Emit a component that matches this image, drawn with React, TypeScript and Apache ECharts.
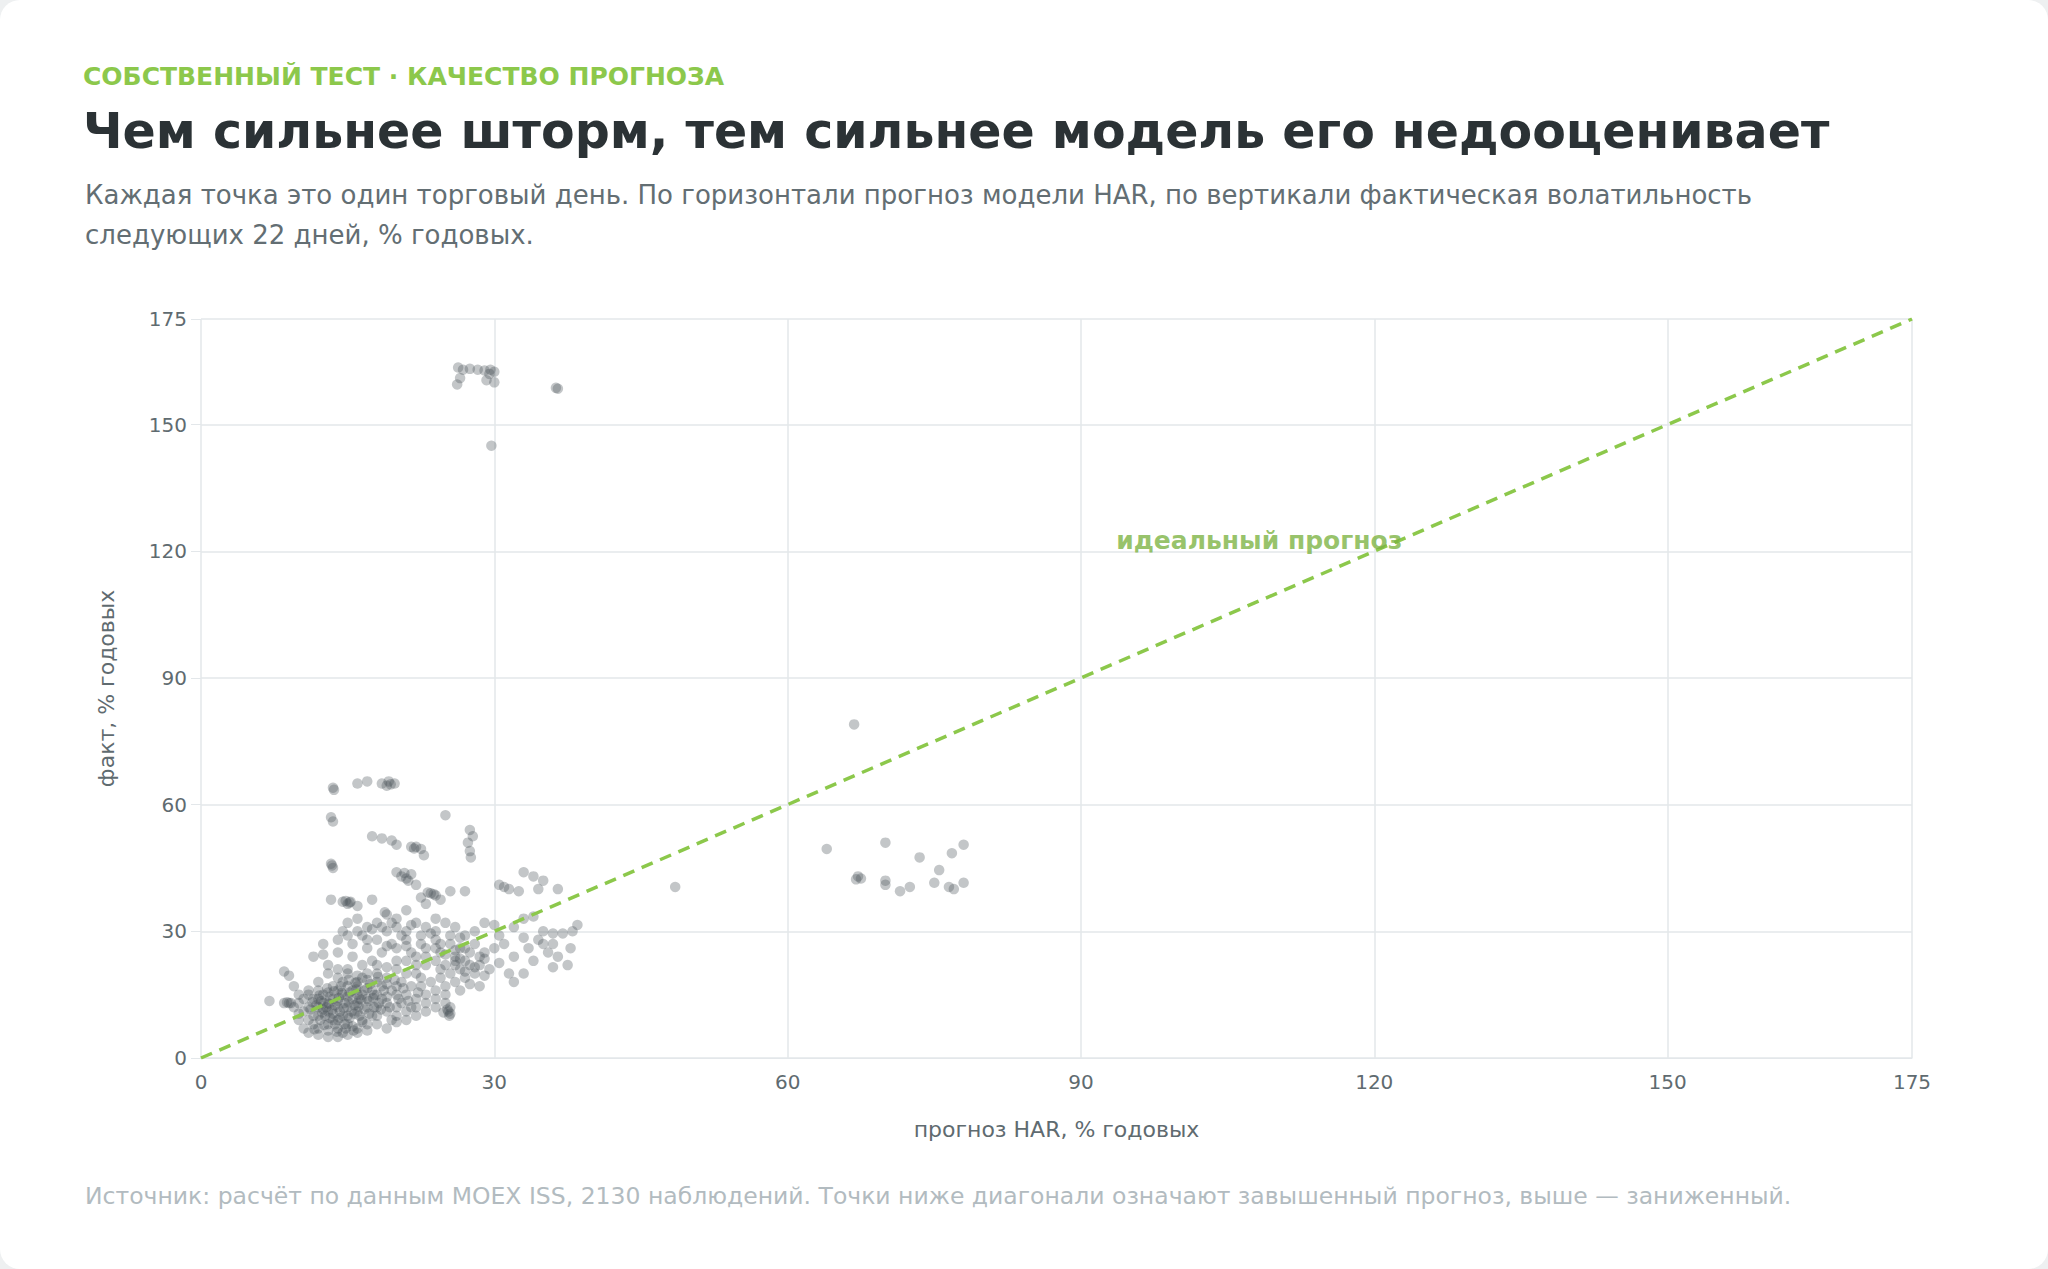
import { useRef, useEffect } from 'react'
import * as echarts from 'echarts'

const FONT = '"DejaVu Sans", "Noto Sans", sans-serif'

const xTicks = [0, 30, 60, 90, 120, 150, 175]
const diagonal = [[0, 0], [175, 175]]
const idealLabelAt = [93.6, 122.6]

// [прогноз HAR, факт] — % годовых
const stormPoints = [
  [26.3, 163.5], [26.8, 163], [27.5, 163.2], [28.3, 163], [29, 162.8], [29.5, 162], [30, 162.5],
  [29.6, 163], [26.5, 161], [26.2, 159.5], [29.2, 160.5], [30, 160], [36.5, 158.5], [36.3, 158.7],
  [29.7, 145],
]

const highForecastPoints = [
  [66.8, 79], [64, 49.5], [70, 51], [67.2, 43], [67.5, 42.5], [67, 42.3], [70, 42], [70, 41],
  [71.5, 39.5], [72.5, 40.5], [73.5, 47.5], [75, 41.5], [75.5, 44.5], [76.5, 40.5], [77, 40],
  [76.8, 48.5], [78, 50.5], [78, 41.5], [48.5, 40.5],
]

const upperPoints = [
  [13.5, 64], [13.6, 63.5], [16, 65], [17, 65.5], [18.5, 65], [19.2, 65.5], [19.8, 65], [19, 64.5],
  [13.3, 57], [13.5, 56], [17.5, 52.5], [18.5, 52], [19.5, 51.5], [20, 50.5], [21.5, 50], [22, 50],
  [22.5, 49.5], [22.8, 48], [25, 57.5], [27.5, 54], [27.8, 52.5], [27.3, 51], [27.5, 49], [27.6, 47.5],
  [13.3, 46], [13.5, 45], [20, 44], [20.5, 43], [21, 42.5], [21.5, 43.5], [22, 41], [23.5, 39],
  [24, 38.5], [24.5, 37.5], [25.5, 39.5], [27, 39.5], [31, 40.5], [31.5, 40], [32.5, 39.5], [33, 44],
  [34, 43], [35, 42], [34.5, 40], [36.5, 40], [13.3, 37.5], [14.5, 37], [15, 36.5], [15.3, 37],
  [16, 36], [17.5, 37.5], [30.5, 41], [22.5, 38], [23, 36.5], [21, 35], [19, 34], [20, 33],
  [23.2, 39.2], [23.8, 38.8], [20.8, 43.8], [21.2, 42], [15.2, 36.8], [14.8, 37.2], [18.8, 34.5],
  [21.8, 49.6], [19.4, 64.8], [13.4, 45.6],
]

const midPoints = [
  [29, 32], [30, 31.5], [32, 31], [33, 33], [34, 33.5], [35, 30], [36, 29.5], [37, 29.5], [38, 30],
  [38.5, 31.5], [37.8, 26], [36.5, 24], [36, 21.5], [34, 23], [33.5, 26], [32, 24], [31.5, 20],
  [32, 18], [33, 20], [30.5, 22.5], [29.5, 21], [29, 19.5], [28.5, 17], [34.5, 28], [35, 27],
  [31, 27], [30, 26], [29, 25], [28, 27], [27, 29], [26, 31], [25, 32], [24, 33], [23, 31],
  [22, 32], [21, 30], [20, 31], [19, 30], [18, 32], [17, 31], [16, 33], [15, 32], [14.5, 30],
  [14, 28], [15.5, 27], [16.5, 29], [18, 28], [19.5, 27], [21, 28], [22.5, 29], [24, 28],
  [25.5, 27], [27, 26], [28.5, 24], [26, 24], [24.5, 25], [23, 26], [21.5, 25], [20, 26],
  [18.5, 25], [17, 26], [15.5, 24], [14, 25], [12.5, 24.5], [11.5, 24], [12.5, 27], [13, 22],
  [24, 30], [26.5, 28.5], [28, 30], [30.5, 29], [33, 28.5], [36, 27], [37.5, 22], [35.5, 25],
  [17.5, 30.5], [18.5, 31], [19.5, 32], [20.5, 29], [21.5, 31.5], [22.5, 27], [23.5, 29.5],
  [24.5, 27], [25.5, 29], [26.5, 26], [27.5, 25], [16, 30], [15, 29], [17, 28], [19, 26.5],
  [21, 26.5], [22, 24], [24, 26], [26, 22], [27, 20.5], [28, 21.5], [26.5, 23.5], [25, 24.5],
]

const corePoints = [
  [7, 13.5], [8.5, 13], [9, 13], [8.5, 20.5], [9, 19.5], [9.5, 17], [10, 15], [10, 9], [10.5, 7],
  [11, 6], [11.5, 8], [12, 5.5], [13, 5], [14, 5], [15, 5.5], [16, 6], [12, 10], [11, 12],
  [10.5, 11], [11.5, 14], [12, 16], [12.5, 13], [13, 11], [13.5, 9], [14, 7], [14.5, 10],
  [15, 12], [15.5, 14], [16, 11], [16.5, 9], [17, 8], [17.5, 10], [18, 12], [18.5, 14],
  [19, 11], [19.5, 9], [20, 10], [20.5, 13], [21, 15], [21.5, 12], [22, 14], [22.5, 17],
  [23, 15], [23.5, 18], [24, 16], [24.5, 19], [25, 17], [25.5, 20], [26, 18], [26.5, 21],
  [27, 19], [27.5, 22], [28, 20], [12, 18], [13, 20], [14, 19], [15, 21], [16, 18], [17, 20],
  [18, 22], [19, 19], [20, 21], [21, 23], [22, 20], [23, 22], [24, 23], [25, 22], [26, 23],
  [11, 16], [12.5, 15], [13.5, 14], [14.5, 15], [15.5, 16], [16.5, 15], [17.5, 16], [18.5, 17],
  [19.5, 16], [20.5, 18], [21.5, 17], [13, 8], [14, 9], [15, 8], [16, 7], [17, 6.5], [18, 8],
  [19, 7], [20, 8.5], [21, 9], [22, 10], [23, 11], [24, 12], [25, 13], [25.5, 10.5], [25.3, 11],
  [25.5, 12], [12, 12], [13, 13], [14, 12], [15, 10], [16, 13], [17, 12], [18, 10], [19, 13],
  [20, 12], [21, 11], [22, 12], [23, 13], [24, 14], [13.5, 17], [14.5, 18], [16, 17],
  [17, 14], [18, 15], [19, 14.5], [20, 15], [21, 20], [22, 22], [23, 24], [10, 10.5], [11, 9],
  [12, 7], [13, 6.5], [14.5, 6], [15.5, 7.5], [16.5, 8.5], [11.5, 10], [12.5, 11.5], [13.5, 10.5],
  [14, 13.5], [15, 14.5], [16, 15], [17, 16.5], [18, 18], [19, 17.5], [20, 17], [9.5, 12],
  [10, 13], [10.5, 14], [11, 15], [12, 14], [13, 15.5], [14, 16], [15, 17], [16, 19.5], [17, 18.5],
  [18, 20], [19, 21.5], [20, 23], [17.5, 23], [16.5, 22], [15, 20], [14, 21], [28.5, 22],
  [29, 23.5], [27, 23], [26, 25.5], [24.5, 21], [22.5, 19], [26.5, 16], [27.5, 17.5], [25, 15],
]

// самая плотная часть облака, 11–19 % прогноза
const densePoints = [
  [11.2, 11.5], [11.8, 12.5], [12.3, 13.5], [12.8, 12], [13.2, 14.5], [13.7, 12.5], [14.2, 11],
  [14.7, 13], [15.2, 15.5], [15.7, 12.5], [16.2, 14], [16.7, 16], [17.2, 13.5], [17.7, 15],
  [18.2, 13], [18.7, 16], [12.2, 9], [12.7, 10], [13.2, 9.5], [13.7, 8], [14.2, 9.5], [14.7, 8],
  [15.2, 9.5], [15.7, 10.5], [16.2, 10], [16.7, 11.5], [17.2, 10.5], [17.7, 12], [11.4, 13.2],
  [12.1, 14.8], [12.9, 16.5], [13.6, 15.8], [14.3, 17], [15.1, 18.5], [15.8, 17.8], [16.5, 19],
  [17.3, 17.5], [18.1, 19.2], [13.9, 6.2], [14.8, 7], [15.6, 6.5], [12.6, 7.8], [11.6, 6.8],
  [13.1, 12.8], [14.1, 14.2], [15.1, 13.2], [16.1, 12.2], [14.6, 11.8], [15.4, 11], [16.4, 13.8],
  [12.4, 10.8], [13.4, 11.4], [14.4, 15.4], [15.9, 16.2], [17.6, 14.2], [18.4, 11.5], [19.3, 12],
  [20.2, 14], [21.2, 13.5], [22.2, 15.5], [20.7, 16.5], [19.8, 18.5], [9.2, 13], [8.8, 13.2],
  [24.8, 10.8], [25.2, 11.5], [25.4, 10],
]

const allPoints = [
  ...stormPoints, ...highForecastPoints, ...upperPoints, ...midPoints, ...corePoints, ...densePoints,
]

export default function App() {
  const containerRef = useRef<HTMLDivElement>(null)

  useEffect(() => {
    document.body.style.margin = '0'
    document.body.style.background = '#eef0f1'
    const el = containerRef.current
    if (!el) return
    const chart = echarts.init(el, null, { renderer: 'svg' })

    const axisLabel = { color: '#5f6b70', fontSize: 20, fontFamily: FONT }
    const splitLine = { lineStyle: { color: '#e3e7ea', width: 1.5 } }

    chart.setOption({
      animation: false,
      backgroundColor: '#ffffff',
      title: [
        {
          text: 'СОБСТВЕННЫЙ ТЕСТ · КАЧЕСТВО ПРОГНОЗА',
          left: 78, top: 59,
          textStyle: { color: '#8cc84b', fontSize: 25, fontWeight: 'bold', fontFamily: FONT },
        },
        {
          text: 'Чем сильнее шторм, тем сильнее модель его недооценивает',
          left: 78, top: 102,
          textStyle: { color: '#2b3235', fontSize: 49, fontWeight: 'bold', fontFamily: FONT },
        },
        {
          text: 'Каждая точка это один торговый день. По горизонтали прогноз модели HAR, по вертикали фактическая волатильность\nследующих 22 дней, % годовых.',
          left: 80, top: 170,
          textStyle: { color: '#636e73', fontSize: 26, lineHeight: 40, fontWeight: 'normal', fontFamily: FONT },
        },
        {
          text: 'Источник: расчёт по данным MOEX ISS, 2130 наблюдений. Точки ниже диагонали означают завышенный прогноз, выше — заниженный.',
          left: 80, top: 1179,
          textStyle: { color: '#b2bbc0', fontSize: 23.5, fontWeight: 'normal', fontFamily: FONT },
        },
      ],
      grid: { left: 201, right: 136, top: 319, bottom: 211 },
      xAxis: {
        type: 'value', min: 0, max: 175, interval: 30,
        name: 'прогноз HAR, % годовых', nameLocation: 'middle', nameGap: 60,
        nameTextStyle: { color: '#5f6b70', fontSize: 22, fontFamily: FONT },
        axisLine: { show: true, lineStyle: { color: '#e3e7ea' } },
        axisTick: { show: false },
        axisLabel: { ...axisLabel, margin: 14, showMaxLabel: true, customValues: xTicks },
        splitLine,
      },
      yAxis: {
        type: 'value', min: 0, max: 175, interval: 30,
        name: 'факт, % годовых', nameLocation: 'middle', nameGap: 84,
        nameTextStyle: { color: '#5f6b70', fontSize: 22, fontFamily: FONT },
        axisLine: { show: false },
        axisTick: { show: true, length: 10, lineStyle: { color: '#e3e7ea' } },
        axisLabel: { ...axisLabel, margin: 14, showMaxLabel: true, customValues: xTicks },
        splitLine,
      },
      series: [
        {
          type: 'scatter',
          data: allPoints,
          symbolSize: 10.5,
          itemStyle: { color: '#4a5358', opacity: 0.33 },
        },
        {
          type: 'line',
          data: diagonal,
          symbol: 'none',
          lineStyle: { color: '#8cc84b', width: 3.5, type: [12, 8] },
          z: 3,
        },
        {
          type: 'scatter',
          data: [idealLabelAt],
          symbolSize: 0,
          label: {
            show: true, position: 'right', distance: 0,
            formatter: 'идеальный прогноз',
            color: '#7cb342', fontSize: 25, fontWeight: 'bold', fontFamily: FONT,
          },
          z: 4,
        },
      ],
    })

    return () => chart.dispose()
  }, [])

  return (
    <div style={{ width: 2048, height: 1269, borderRadius: 20, overflow: 'hidden' }}>
      <div ref={containerRef} style={{ width: 2048, height: 1269 }} />
    </div>
  )
}
